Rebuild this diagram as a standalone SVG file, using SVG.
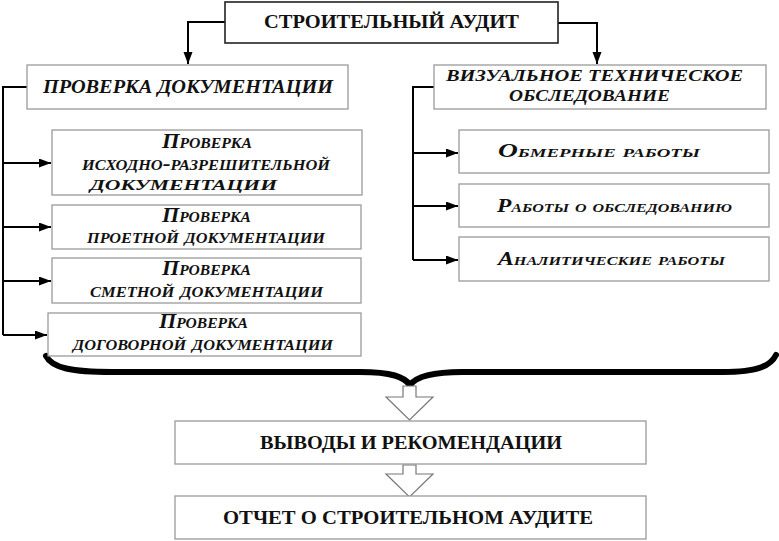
<svg xmlns="http://www.w3.org/2000/svg" width="779" height="541" viewBox="0 0 779 541">
<defs>
<marker id="ah" markerUnits="userSpaceOnUse" markerWidth="13" markerHeight="10" refX="12" refY="4.5" orient="auto">
<path d="M0,0 L12,4.5 L0,9 z" fill="#000"/>
</marker>
<style>
.box{fill:#fff;stroke:#9a9a9a;stroke-width:1.3}
.main{fill:#fff;stroke:#222;stroke-width:1.6}
.t{font-family:"Liberation Serif","Times New Roman",serif;font-weight:bold;fill:#111;text-anchor:start}
.sc{font-style:italic;font-variant:small-caps}
.con{fill:none;stroke:#000;stroke-width:2}
.hol{fill:#fff;stroke:#777;stroke-width:1.2;stroke-linejoin:miter}
</style>
</defs>
<rect width="779" height="541" fill="#fff"/>

<g id="connectors">
<path class="con" d="M225,22 H188 V64" marker-end="url(#ah)"/>
<path class="con" d="M558,23 H597 V64" marker-end="url(#ah)"/>
<path class="con" d="M27,87 H3 V335"/>
<path class="con" d="M3,163 H51" marker-end="url(#ah)"/>
<path class="con" d="M3,227 H51" marker-end="url(#ah)"/>
<path class="con" d="M3,281 H51" marker-end="url(#ah)"/>
<path class="con" d="M3,335 H47" marker-end="url(#ah)"/>
<path class="con" d="M434,87 H413 V260"/>
<path class="con" d="M413,153 H458" marker-end="url(#ah)"/>
<path class="con" d="M413,206 H458" marker-end="url(#ah)"/>
<path class="con" d="M413,260 H458" marker-end="url(#ah)"/>
<path id="brace" d="M46,356 C52,368 72,372 112,372 L360,372 C392,372 404,377 410,385 C416,377 430,372 462,372 L722,372 C760,372 771,365 776,355" fill="none" stroke="#000" stroke-width="6" stroke-linecap="round" stroke-linejoin="round"/>
<polygon class="hol" points="403,386 416,386 416,397 433,397 409.5,420 386,397 403,397"/>
<polygon class="hol" points="403,465 416,465 416,474 433,474 409.5,497 386,474 403,474"/>
</g>

<g id="n-audit">
<rect class="main" x="225" y="2" width="333" height="41"/>
<text class="t" x="264" y="28" font-size="18" textLength="255" lengthAdjust="spacingAndGlyphs">СТРОИТЕЛЬНЫЙ АУДИТ</text>
</g>

<g id="n-doc">
<rect class="box" x="27" y="65" width="321" height="44"/>
<text class="t" font-style="italic" x="43" y="93" font-size="18" textLength="290" lengthAdjust="spacingAndGlyphs">ПРОВЕРКА ДОКУМЕНТАЦИИ</text>
</g>

<g id="n-doc1">
<rect class="box" x="52" y="130" width="310" height="65"/>
<text class="t sc" font-style="italic" x="162" y="148" font-size="20" textLength="90" lengthAdjust="spacingAndGlyphs">Проверка</text>
<text class="t sc" font-style="italic" x="82" y="170" font-size="20" textLength="248" lengthAdjust="spacingAndGlyphs">исходно-разрешительной</text>
<text class="t sc" font-style="italic" x="90" y="190" font-size="20" textLength="187" lengthAdjust="spacingAndGlyphs">документации</text>
</g>

<g id="n-doc2">
<rect class="box" x="52" y="205" width="309" height="44"/>
<text class="t sc" font-style="italic" x="162" y="222" font-size="20" textLength="89" lengthAdjust="spacingAndGlyphs">Проверка</text>
<text class="t sc" font-style="italic" x="87" y="243" font-size="20" textLength="238" lengthAdjust="spacingAndGlyphs">проетной документации</text>
</g>

<g id="n-doc3">
<rect class="box" x="52" y="258" width="309" height="45"/>
<text class="t sc" font-style="italic" x="162" y="275" font-size="20" textLength="89" lengthAdjust="spacingAndGlyphs">Проверка</text>
<text class="t sc" font-style="italic" x="90" y="297" font-size="20" textLength="233" lengthAdjust="spacingAndGlyphs">сметной  документации</text>
</g>

<g id="n-doc4">
<rect class="box" x="48" y="313" width="313" height="43"/>
<text class="t sc" font-style="italic" x="159" y="328" font-size="20" textLength="89" lengthAdjust="spacingAndGlyphs">Проверка</text>
<text class="t sc" font-style="italic" x="73" y="350" font-size="20" textLength="260" lengthAdjust="spacingAndGlyphs">договорной документации</text>
</g>

<g id="n-vis">
<rect class="box" x="434" y="65" width="332" height="44"/>
<text class="t" font-style="italic" x="446" y="81" font-size="17" textLength="297" lengthAdjust="spacingAndGlyphs">ВИЗУАЛЬНОЕ ТЕХНИЧЕСКОЕ</text>
<text class="t" font-style="italic" x="509" y="101" font-size="17" textLength="161" lengthAdjust="spacingAndGlyphs">ОБСЛЕДОВАНИЕ</text>
</g>

<g id="n-vis1">
<rect class="box" x="459" y="130" width="310" height="43"/>
<text class="t sc" font-style="italic" x="498" y="157" font-size="19" textLength="202" lengthAdjust="spacingAndGlyphs">Обмерные работы</text>
</g>

<g id="n-vis2">
<rect class="box" x="459" y="184" width="310" height="43"/>
<text class="t sc" font-style="italic" x="497" y="212" font-size="19" textLength="235" lengthAdjust="spacingAndGlyphs">Работы о обследованию</text>
</g>

<g id="n-vis3">
<rect class="box" x="459" y="237" width="310" height="44"/>
<text class="t sc" font-style="italic" x="498" y="265" font-size="19" textLength="227" lengthAdjust="spacingAndGlyphs">Аналитические работы</text>
</g>

<g id="n-concl">
<rect class="box" x="175" y="421" width="471" height="43"/>
<text class="t" x="260" y="449" font-size="18" textLength="302" lengthAdjust="spacingAndGlyphs">ВЫВОДЫ И РЕКОМЕНДАЦИИ</text>
</g>

<g id="n-report">
<rect class="box" x="175" y="496" width="471" height="43"/>
<text class="t" x="223" y="524" font-size="18" textLength="370" lengthAdjust="spacingAndGlyphs">ОТЧЕТ О СТРОИТЕЛЬНОМ АУДИТЕ</text>
</g>
</svg>
